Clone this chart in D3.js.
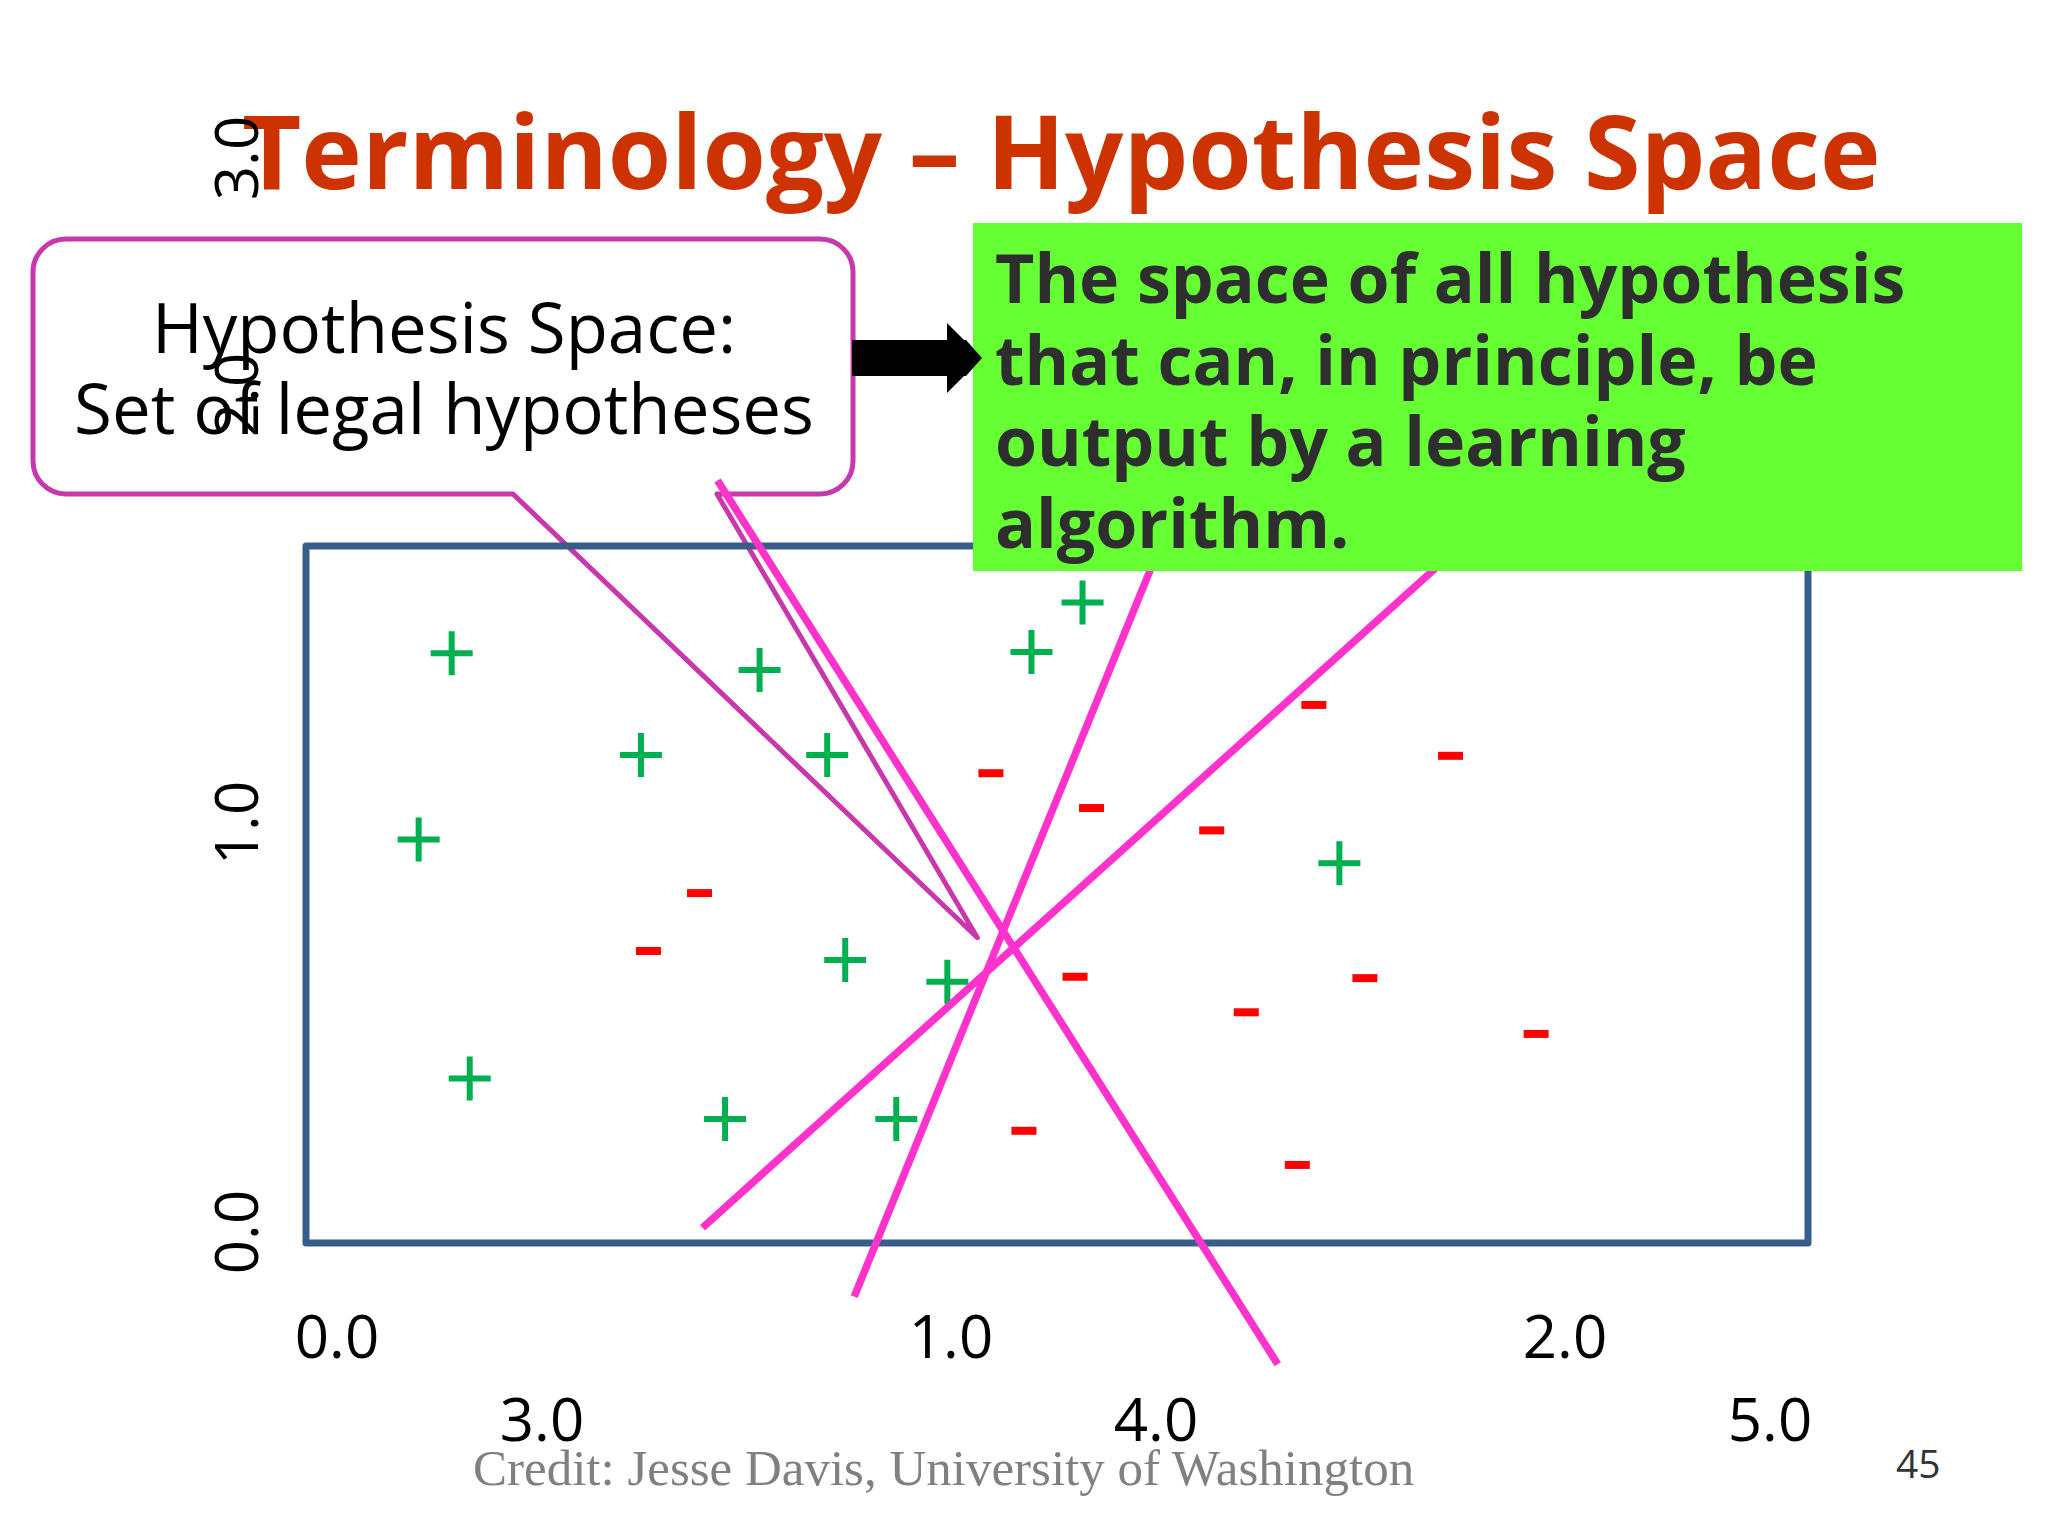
<!DOCTYPE html>
<html>
<head>
<meta charset="utf-8">
<script src="https://cdn.jsdelivr.net/npm/d3@7"></script>
<style>
  html, body { margin: 0; padding: 0; background: #fff; }
  svg { display: block; }
</style>
</head>
<body>
<svg id="slide" width="2048" height="1536"></svg>
<script>
// positive / negative examples, in plot units (0..100 across the box)
const plusX = [9.7, 30.2, 22.3, 34.7, 7.5, 48.3, 51.7, 35.9, 42.7, 10.9, 27.9, 39.3, 68.8];
const plusY = [84.6, 82.2, 70.0, 70.0, 57.9, 84.8, 91.9, 40.6, 37.5, 23.6, 17.8, 17.8, 54.5];
const minusX = [45.6, 52.3, 60.3, 67.1, 76.2, 26.2, 22.8, 51.2, 70.5, 62.6, 81.9, 47.8, 66.0];
const minusY = [67.4, 62.4, 59.2, 77.2, 69.9, 50.2, 41.9, 38.2, 38.0, 33.1, 30.0, 16.1, 11.2];

// candidate hypotheses (lines), start / end in plot units
const hypX1 = [27.4, 36.5, 26.4];
const hypY1 = [109.4, -7.7, 2.2];
const hypX2 = [64.7, 57.5, 78.6];
const hypY2 = [-17.4, 103.4, 103.4];

// axis tick labels (as they sit on the slide)
const yTicks = [0, 1, 2, 3];
const xTicks = [0, 1, 2, 3, 4, 5];

const titleText = "Terminology \u2013 Hypothesis Space";
const calloutLines = ["Hypothesis Space:", "Set of legal hypotheses"];
const defLines = ["The space of all hypothesis", "that can, in principle, be", "output by a learning", "algorithm."];
const creditText = "Credit: Jesse Davis, University of Washington";
const pageNum = "45";

const svg = d3.select("#slide");

/***
 * Scales
 */
const x = d3.scaleLinear().domain([0, 100]).range([306, 1808]);
const y = d3.scaleLinear().domain([0, 100]).range([1243, 546]);
// the slide's tick labels are not evenly spaced
const yLabel = d3.scaleLinear().domain([0, 1, 2, 3]).range([1232, 823, 395, 158]);
const xCol = d3.scaleLinear().domain([0, 2]).range([337, 1565]);
const xRowShift = [0, 205];
const xRowBase = [1358, 1441];

/***
 * Callout box (drawn first, plot sits on top)
 */
const cx0 = 33, cy0 = 239, cx1 = 853, cy1 = 494, cr = 33;
const tipX = x(44.7), tipY = y(43.8);
const callout = d3.path();
callout.moveTo(cx0 + cr, cy0);
callout.lineTo(cx1 - cr, cy0);
callout.arcTo(cx1, cy0, cx1, cy0 + cr, cr);
callout.lineTo(cx1, cy1 - cr);
callout.arcTo(cx1, cy1, cx1 - cr, cy1, cr);
callout.lineTo(717, cy1);
callout.lineTo(tipX, tipY);
callout.lineTo(513, cy1);
callout.lineTo(cx0 + cr, cy1);
callout.arcTo(cx0, cy1, cx0, cy1 - cr, cr);
callout.lineTo(cx0, cy0 + cr);
callout.arcTo(cx0, cy0, cx0 + cr, cy0, cr);
callout.closePath();

svg.append("path")
    .attr("d", callout.toString())
    .attr("fill", "none")
    .attr("stroke", "#C837AB")
    .attr("stroke-width", 5)
    .attr("stroke-linejoin", "round");

svg.append("rect")
    .attr("x", cx0 + 3).attr("y", cy0 + 3)
    .attr("width", cx1 - cx0 - 6).attr("height", cy1 - cy0 - 6)
    .attr("rx", cr - 3)
    .attr("fill", "#fff");

svg.append("g")
    .selectAll("text")
    .data(calloutLines)
    .join("text")
    .attr("x", 444)
    .attr("y", (d, i) => 353 + i * 81)
    .attr("text-anchor", "middle")
    .attr("font-family", "'Open Sans', sans-serif")
    .attr("font-size", 69)
    .attr("fill", "#000")
    .text(d => d);

/***
 * Plot frame
 */
svg.append("rect")
    .attr("x", x(0)).attr("y", y(100))
    .attr("width", x(100) - x(0))
    .attr("height", y(0) - y(100))
    .attr("fill", "none")
    .attr("stroke", "#385D8A")
    .attr("stroke-width", 7)
    .attr("stroke-linejoin", "round");

/***
 * Examples
 */
const plusData = plusX.map((v, i) => ({ x: v, y: plusY[i] }));
const minusData = minusX.map((v, i) => ({ x: v, y: minusY[i] }));

svg.append("g")
    .attr("class", "plus")
    .selectAll("path")
    .data(plusData)
    .join("path")
    .attr("d", d => {
        const px = x(d.x), py = y(d.y), h = 21, v = 22;
        return `M${px - h},${py}H${px + h}M${px},${py - v}V${py + v}`;
    })
    .attr("stroke", "#00B050")
    .attr("stroke-width", 6)
    .attr("fill", "none");

svg.append("g")
    .attr("class", "minus")
    .selectAll("rect")
    .data(minusData)
    .join("rect")
    .attr("x", d => x(d.x) - 12.5)
    .attr("y", d => y(d.y) - 4)
    .attr("width", 25)
    .attr("height", 8)
    .attr("fill", "#FF0000");

/***
 * Hypothesis lines
 */
const hypData = hypX1.map((v, i) => ({ x1: v, y1: hypY1[i], x2: hypX2[i], y2: hypY2[i] }));
svg.append("g")
    .attr("class", "hyp")
    .selectAll("line")
    .data(hypData)
    .join("line")
    .attr("x1", d => x(d.x1)).attr("y1", d => y(d.y1))
    .attr("x2", d => x(d.x2)).attr("y2", d => y(d.y2))
    .attr("stroke", "#FF33CC")
    .attr("stroke-width", 7.5);

/***
 * Definition box + arrow
 */
svg.append("path")
    .attr("d", "M852,340H947V323L982,358L947,393V376H852Z")
    .attr("fill", "#000");

svg.append("rect")
    .attr("x", 973).attr("y", 223)
    .attr("width", 2022 - 973).attr("height", 571 - 223)
    .attr("fill", "#66FF33");

svg.append("path")
    .attr("d", "M960,340H966L982,358L966,376H960Z")
    .attr("fill", "#000");

svg.append("g")
    .selectAll("text")
    .data(defLines)
    .join("text")
    .attr("x", 995)
    .attr("y", (d, i) => 303 + i * 81.5)
    .attr("font-family", "'Open Sans', sans-serif")
    .attr("font-weight", 700)
    .attr("font-size", 68)
    .attr("fill", "#2E2E2E")
    .text(d => d);

/***
 * Title
 */
svg.append("text")
    .attr("x", 242).attr("y", 189)
    .attr("font-family", "'Open Sans', sans-serif")
    .attr("font-weight", 700)
    .attr("font-size", 102.5)
    .attr("fill", "#CC3300")
    .text(titleText);

/***
 * Tick labels
 */
svg.append("g")
    .attr("class", "y-labels")
    .selectAll("text")
    .data(yTicks)
    .join("text")
    .attr("transform", d => `translate(258,${yLabel(d)}) rotate(-90)`)
    .attr("text-anchor", "middle")
    .attr("font-family", "'Open Sans', sans-serif")
    .attr("font-size", 60)
    .attr("fill", "#000")
    .text(d => d.toFixed(1));

svg.append("g")
    .attr("class", "x-labels")
    .selectAll("text")
    .data(xTicks)
    .join("text")
    .attr("x", d => xCol(d % 3) + xRowShift[Math.floor(d / 3)])
    .attr("y", d => xRowBase[Math.floor(d / 3)])
    .attr("text-anchor", "middle")
    .attr("font-family", "'Open Sans', sans-serif")
    .attr("font-size", 60)
    .attr("fill", "#000")
    .text(d => d.toFixed(1));

/***
 * Footer
 */
svg.append("text")
    .attr("x", 473).attr("y", 1485)
    .attr("font-family", "'Liberation Serif', 'Times New Roman', serif")
    .attr("font-size", 51)
    .attr("fill", "#808080")
    .text(creditText);

svg.append("text")
    .attr("x", 1896).attr("y", 1478)
    .attr("font-family", "'Open Sans', sans-serif")
    .attr("font-size", 39)
    .attr("fill", "#333")
    .text(pageNum);
</script>
</body>
</html>
